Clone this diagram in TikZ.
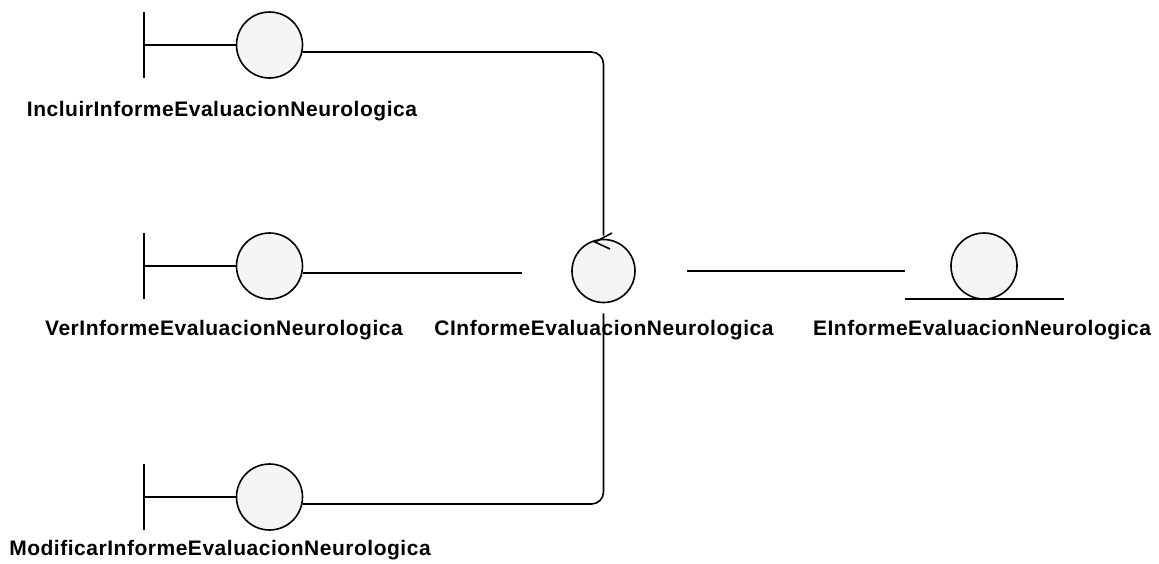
\documentclass[tikz,border=0pt]{standalone}
\usepackage{fontspec}
\newfontfamily\lblfont[LetterSpace=2.5]{Liberation Sans}
\begin{document}
\begin{tikzpicture}[x=1pt,y=-1pt,
  every path/.style={line width=1.6pt},
  icon/.style={circle,draw,fill=black!4,inner sep=0pt,minimum size=66pt},
  ctrl/.style={circle,draw,fill=black!4,inner sep=0pt,minimum size=63pt},
  lbl/.style={anchor=base,inner sep=0pt,font=\lblfont\bfseries\fontsize{21}{24}\selectfont},
  conn/.style={line width=1.6pt},
  corner/.style={conn,rounded corners=12pt}]
\useasboundingbox[fill=white] (0,0) rectangle (1159,563);

% boundary objects: bar, stem and circle
\foreach \n/\y in {b1/45,b2/266,b3/497}{
  \node[icon] (\n) at (269.5,\y) {};
  \coordinate (\n bar) at (144,\y);
  \draw ([yshift=33pt]\n bar) -- ([yshift=-33pt]\n bar);
  \draw (\n bar) -- (\n.west);
}

% control object with its arrow
\node[ctrl] (c) at (603.5,271) {};
\draw ([shift={(8.5,-38)}]c.center) -- ([shift={(-8.5,-29)}]c.center) -- ([shift={(6.5,-22)}]c.center);

% entity object: circle standing on a line
\node[icon] (e) at (984,266) {};
\coordinate (eL) at (905,299);
\coordinate (eR) at (1064,299);
\draw (eL) -- (eR);

% labels
\node[lbl] (l1) at (222,116) {IncluirInformeEvaluacionNeurologica};
\node[lbl] (l2) at (224,335) {VerInformeEvaluacionNeurologica};
\node[lbl] (l3) at (604,335) {CInformeEvaluacionNeurologica};
\node[lbl] (l4) at (982,335) {EInformeEvaluacionNeurologica};
\node[lbl] (l5) at (220,555) {ModificarInformeEvaluacionNeurologica};

% links
\draw[corner,shorten >=3pt] (b1.-12) -| (c.north);
\draw[conn,shorten >=49pt] (b2.-12) -- (b2.-12 -| c.west);
\draw[conn,shorten <=51pt] (c.east) -- (c.east -| eL);
\draw[corner,shorten >=10pt] (b3.-12) -| (c.south);
\end{tikzpicture}
\end{document}
